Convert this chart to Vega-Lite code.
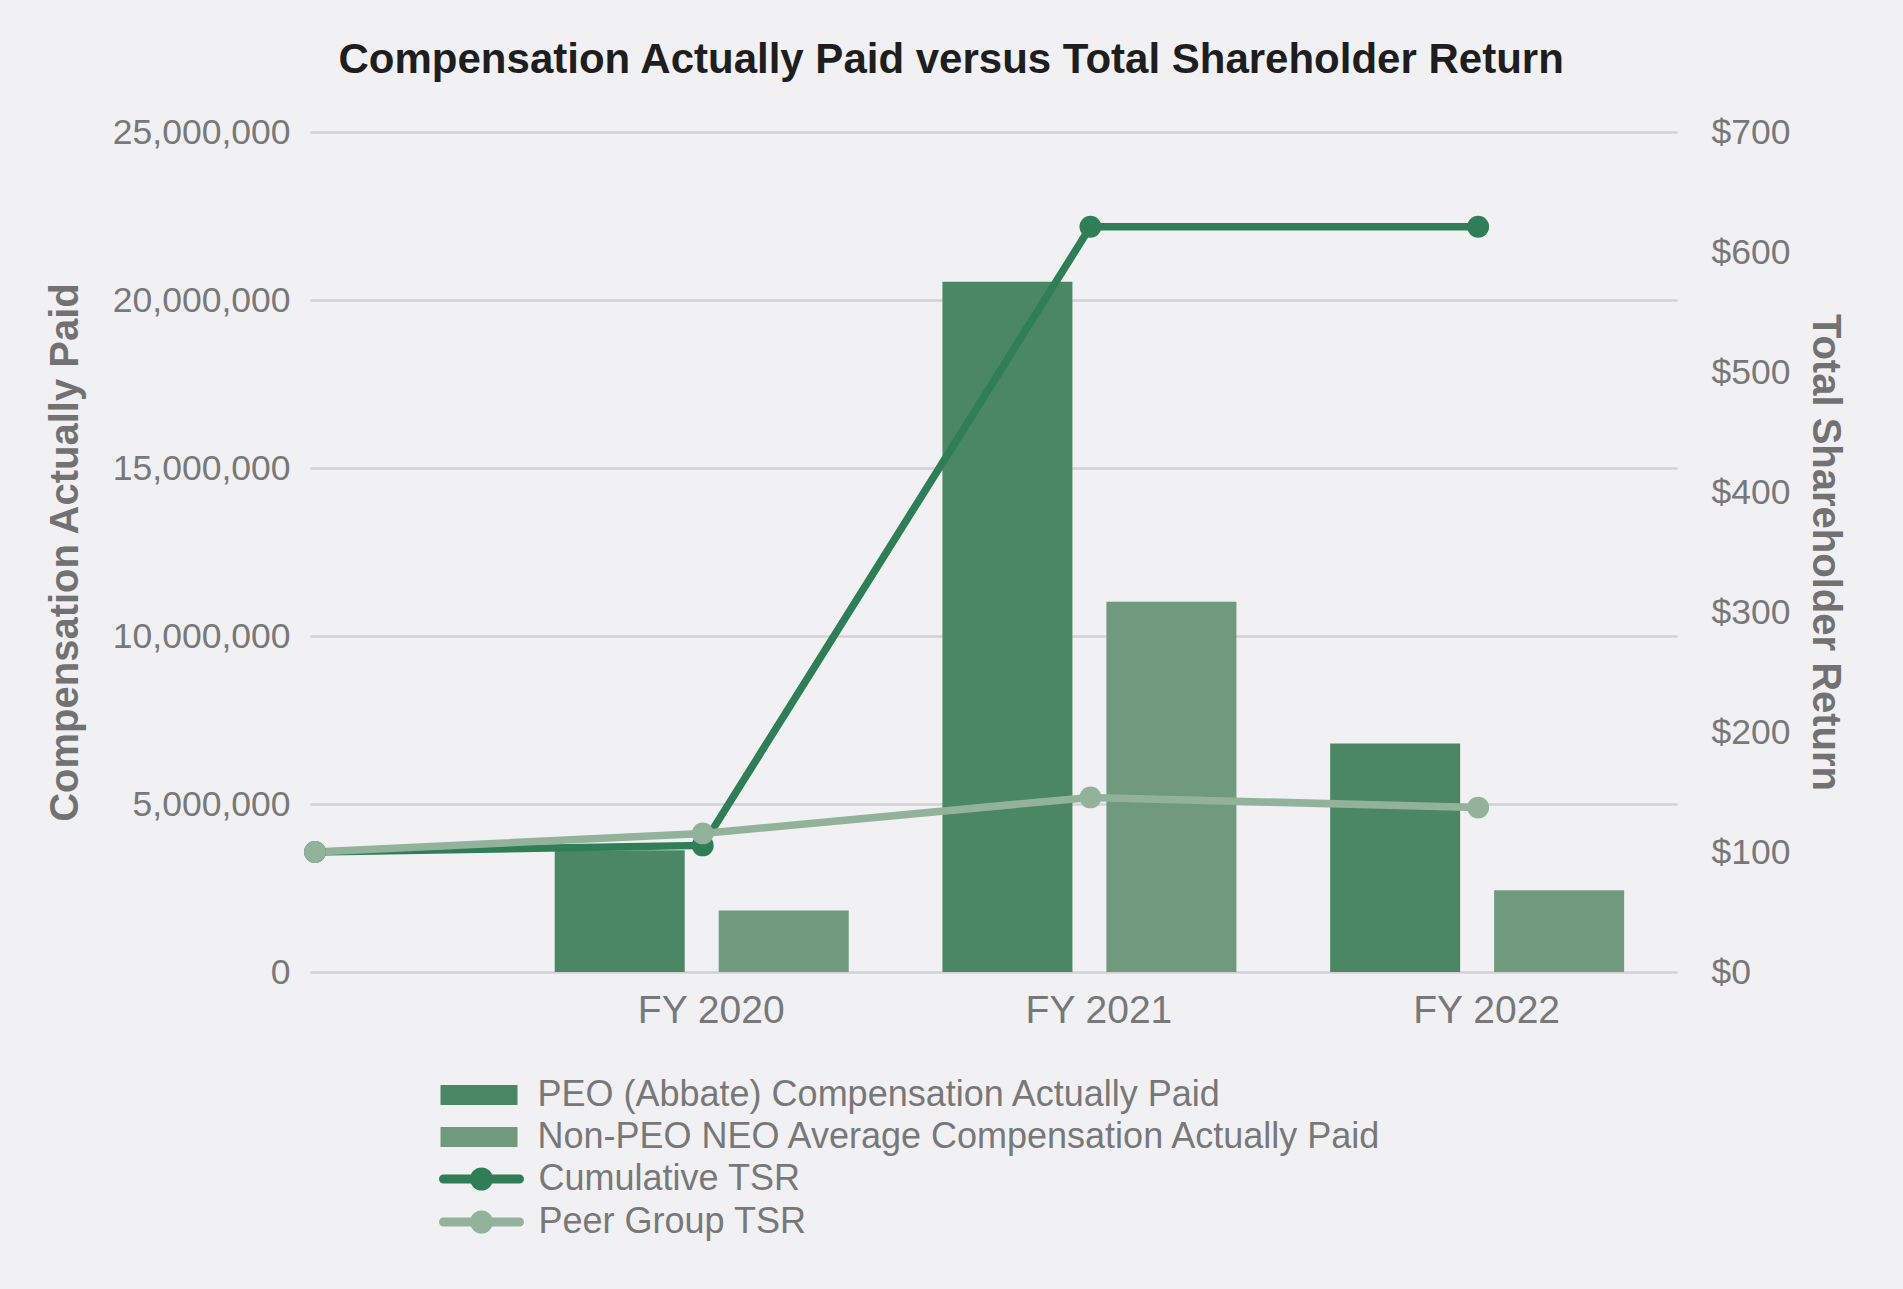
{
  "$schema": "https://vega.github.io/schema/vega-lite/v6.json",
  "width": 1367,
  "height": 840,
  "autosize": {"type": "none"},
  "padding": {"left": 310, "top": 132, "right": 226, "bottom": 317},
  "background": "#f1f1f3",
  "title": {
    "text": "Compensation Actually Paid versus Total Shareholder Return",
    "font": "Liberation Sans",
    "fontSize": 42,
    "fontWeight": "bold",
    "color": "#1e1e1e",
    "anchor": "middle",
    "frame": "bounds",
    "offset": 33,
    "dx": 6
  },
  "config": {
    "view": {"stroke": null},
    "font": "Liberation Sans",
    "axis": {
      "domain": false,
      "ticks": false,
      "labelFont": "Liberation Sans",
      "labelFontSize": 35.5,
      "labelColor": "#787878",
      "titleFont": "Liberation Sans",
      "titleFontSize": 40,
      "titleFontWeight": "bold",
      "titleColor": "#727272",
      "gridColor": "#d2d2d5",
      "gridWidth": 2.5
    },
    "legend": {
      "labelFont": "Liberation Sans",
      "labelFontSize": 36,
      "labelColor": "#787878",
      "labelLimit": 0,
      "padding": 0,
      "rowPadding": 6,
      "symbolOpacity": 1
    }
  },
  "datasets": {
    "comp": [
      {"fy": 2020, "series": "PEO (Abbate) Compensation Actually Paid", "value": 3620000},
      {"fy": 2021, "series": "PEO (Abbate) Compensation Actually Paid", "value": 20540000},
      {"fy": 2022, "series": "PEO (Abbate) Compensation Actually Paid", "value": 6800000},
      {"fy": 2020, "series": "Non-PEO NEO Average Compensation Actually Paid", "value": 1830000},
      {"fy": 2021, "series": "Non-PEO NEO Average Compensation Actually Paid", "value": 11020000},
      {"fy": 2022, "series": "Non-PEO NEO Average Compensation Actually Paid", "value": 2430000}
    ],
    "tsr": [
      {"fy": 2019, "series": "Cumulative TSR", "tsr": 100},
      {"fy": 2020, "series": "Cumulative TSR", "tsr": 105.5},
      {"fy": 2021, "series": "Cumulative TSR", "tsr": 621},
      {"fy": 2022, "series": "Cumulative TSR", "tsr": 621},
      {"fy": 2019, "series": "Peer Group TSR", "tsr": 100},
      {"fy": 2020, "series": "Peer Group TSR", "tsr": 115.5},
      {"fy": 2021, "series": "Peer Group TSR", "tsr": 145.5},
      {"fy": 2022, "series": "Peer Group TSR", "tsr": 137}
    ]
  },
  "encoding": {
    "x": {
      "field": "fy",
      "type": "quantitative",
      "scale": {"domain": [2019, 2022.5], "nice": false, "zero": false},
      "axis": {
        "values": [2020, 2021, 2022],
        "labelExpr": "'FY ' + datum.value",
        "grid": false,
        "labelFontSize": 39,
        "labelPadding": 19,
        "labelOffset": 8,
        "title": null
      }
    }
  },
  "layer": [
    {
      "data": {"name": "comp"},
      "encoding": {
        "y": {
          "field": "value",
          "type": "quantitative",
          "scale": {"domain": [0, 25000000], "nice": false},
          "axis": {
            "orient": "left",
            "values": [0, 5000000, 10000000, 15000000, 20000000, 25000000],
            "format": ",d",
            "grid": true,
            "labelPadding": 20,
            "titlePadding": 27,
            "title": "Compensation Actually Paid"
          }
        },
        "fill": {
          "field": "series",
          "type": "nominal",
          "scale": {
            "domain": ["PEO (Abbate) Compensation Actually Paid", "Non-PEO NEO Average Compensation Actually Paid"],
            "range": ["#4b8764", "#70997d"]
          },
          "legend": {
            "orient": "none",
            "legendX": 151,
            "legendY": 945,
            "title": null,
            "symbolType": "M-3.85,-1H3.85V1H-3.85Z",
            "symbolSize": 400,
            "symbolStrokeWidth": 0,
            "labelOffset": 40.5
          }
        }
      },
      "layer": [
        {
          "transform": [{"filter": "datum.series == 'PEO (Abbate) Compensation Actually Paid'"}],
          "mark": {"type": "bar", "width": 130, "xOffset": -83}
        },
        {
          "transform": [{"filter": "datum.series == 'Non-PEO NEO Average Compensation Actually Paid'"}],
          "mark": {"type": "bar", "width": 130, "xOffset": 81}
        }
      ]
    },
    {
      "data": {"name": "tsr"},
      "mark": {
        "type": "line",
        "strokeWidth": 7.5,
        "point": {"filled": true, "size": 480, "opacity": 1}
      },
      "encoding": {
        "y": {
          "field": "tsr",
          "type": "quantitative",
          "scale": {"domain": [0, 700], "nice": false},
          "axis": {
            "orient": "right",
            "values": [0, 100, 200, 300, 400, 500, 600, 700],
            "format": "$,d",
            "grid": false,
            "labelPadding": 34,
            "titlePadding": 15,
            "title": "Total Shareholder Return"
          }
        },
        "color": {
          "field": "series",
          "type": "nominal",
          "scale": {
            "domain": ["Cumulative TSR", "Peer Group TSR"],
            "range": ["#2f7e57", "#93b29b"]
          },
          "legend": {
            "orient": "none",
            "legendX": 153.5,
            "legendY": 1029,
            "title": null,
            "rowPadding": -10,
            "symbolType": "M-3.8,0H3.8M0.7,0A0.7,0.7,0,1,1,-0.7,0A0.7,0.7,0,1,1,0.7,0Z",
            "symbolSize": 400,
            "symbolStrokeWidth": 9,
            "labelOffset": 39,
            "encode": {
              "symbols": {
                "update": {
                  "fill": {"scale": "color", "field": "value"},
                  "strokeCap": {"value": "round"}
                }
              }
            }
          }
        }
      }
    }
  ],
  "resolve": {"scale": {"y": "independent"}}
}
